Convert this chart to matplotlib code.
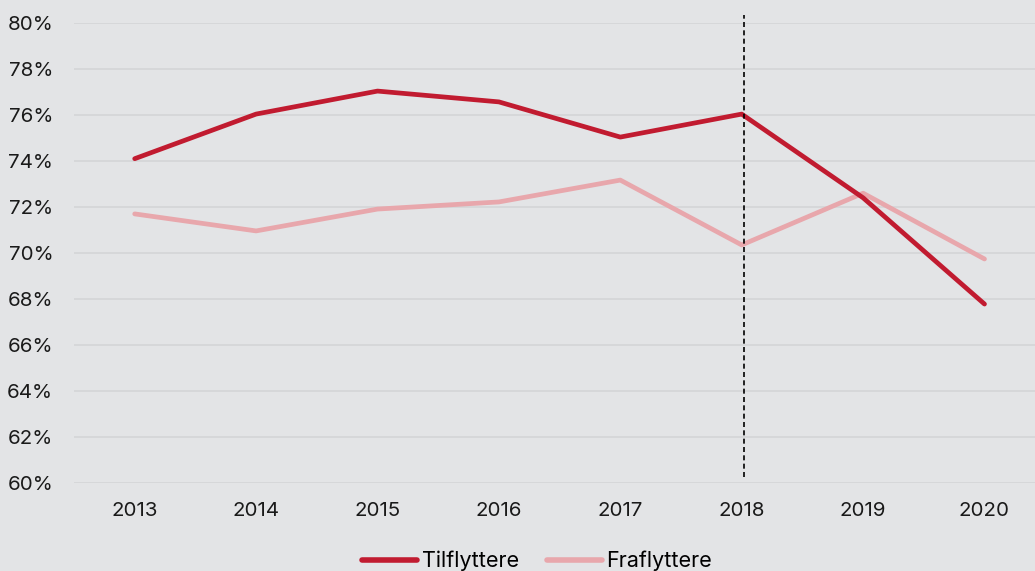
import matplotlib
matplotlib.use("Agg")
import matplotlib.pyplot as plt

years = ["2013", "2014", "2015", "2016", "2017", "2018", "2019", "2020"]
tilflyttere = [74.1, 76.04, 77.04, 76.57, 75.04, 76.04, 72.4, 67.78]
fraflyttere = [71.70, 70.96, 71.91, 72.22, 73.17, 70.35, 72.6, 69.74]
yticks = [60, 62, 64, 66, 68, 70, 72, 74, 76, 78, 80]

plt.rcParams['font.family'] = ['Inter', 'DejaVu Sans']

W, H = 1035, 571
fig = plt.figure(figsize=(W / 100, H / 100), dpi=100)
bg = "#E3E4E6"
fig.patch.set_facecolor(bg)

left, right, top, bottom = 74, 74 + 8 * 121.4, 23, 483
ax = fig.add_axes([left / W, 1 - bottom / H, (right - left) / W, (bottom - top) / H])
ax.set_facecolor(bg)

x = list(range(len(years)))
ax.plot(x, tilflyttere, color="#C11B30", lw=3.4, solid_capstyle="round", solid_joinstyle="round", label="Tilflyttere", zorder=3)
ax.plot(x, fraflyttere, color="#E8A7AC", lw=3.4, solid_capstyle="round", solid_joinstyle="round", label="Fraflyttere", zorder=2)

ax.plot([5.015, 5.015], [60.26, 80.35], color="black", lw=1.2, ls=(0, (3, 2)), clip_on=False, zorder=4)

ax.set_xlim(-0.5, 7.5)
ax.set_ylim(60, 80)
ax.set_yticks(yticks)
ax.set_yticklabels([f"{v}%" for v in yticks])
ax.set_xticks(x)
ax.set_xticklabels(years)
ax.yaxis.grid(True, color="#D4D5D7", lw=1.2)
ax.set_axisbelow(True)
for s in ax.spines.values():
    s.set_visible(False)
ax.tick_params(axis="both", length=0, labelsize=14.8, colors="#1A1A1A")
ax.tick_params(axis="y", pad=15)
ax.tick_params(axis="x", pad=14)

leg = fig.legend(loc="center", bbox_to_anchor=(537 / W, 1 - 561 / H), ncol=2, frameon=False,
                 fontsize=15.5, handlelength=2.55, handletextpad=0.2, columnspacing=1.3)
for line in leg.get_lines():
    line.set_linewidth(4.0)

fig.savefig("out.png", dpi=100, facecolor=bg)
